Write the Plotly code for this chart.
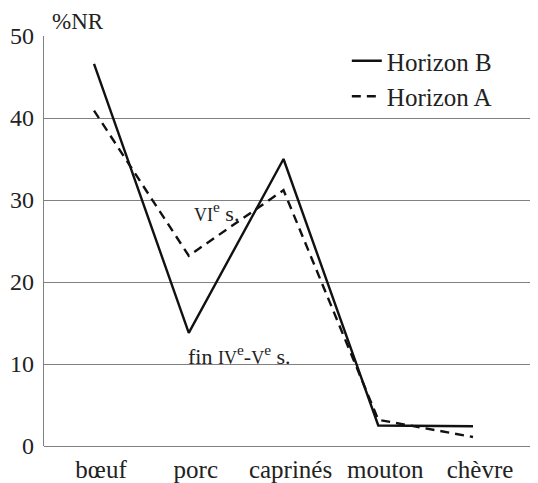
import plotly.graph_objects as go

categories = ["bœuf", "porc", "caprinés", "mouton", "chèvre"]
horizon_b = [46.6, 13.8, 35.0, 2.5, 2.4]
horizon_a = [40.9, 23.2, 31.2, 3.2, 1.1]
y_ticks = [0, 10, 20, 30, 40, 50]

FONT = "Liberation Serif"
TXT = "#222222"
GRID = "#808080"

fig = go.Figure()
fig.add_trace(go.Scatter(x=categories, y=horizon_b, mode="lines", name="Horizon B",
                         line=dict(color="#111111", width=2.4)))
fig.add_trace(go.Scatter(x=categories, y=horizon_a, mode="lines", name="Horizon A",
                         line=dict(color="#111111", width=2.4, dash="9px,6px")))

fig.update_layout(
    width=530, height=475,
    margin=dict(l=36, r=0, t=28, b=37),
    paper_bgcolor="white", plot_bgcolor="white",
    font=dict(family=FONT, size=22, color=TXT),
    showlegend=True,
    legend=dict(x=0.613, y=0.995, xanchor="left", yanchor="top",
                font=dict(family=FONT, size=25, color=TXT),
                bgcolor="rgba(0,0,0,0)", tracegroupgap=0),
    xaxis=dict(type="category", range=[-0.528, 4.686], showgrid=False,
               showline=False, ticks="", zeroline=False,
               tickfont=dict(family=FONT, size=25, color=TXT),
               ticklabelshift=7, ticklabelstandoff=6),
    yaxis=dict(range=[0, 50], tickvals=y_ticks, showgrid=True, gridcolor=GRID,
               gridwidth=1.3, showline=True, linecolor=GRID, linewidth=1.3,
               zeroline=True, zerolinecolor=GRID, zerolinewidth=1.3,
               ticks="", tickfont=dict(family=FONT, size=24, color=TXT),
               ticklabelstandoff=4),
    annotations=[
        dict(text="%NR", xref="paper", yref="paper", x=0.012, y=1.0, yshift=0,
             xanchor="left", yanchor="bottom", showarrow=False,
             font=dict(family=FONT, size=23, color=TXT)),
        dict(text="<span style='font-size:18px'>VI</span><sup>e</sup> s.",
             xref="paper", yref="y", x=0.30, y=28.5, xanchor="left", yanchor="middle",
             showarrow=False, font=dict(family=FONT, size=22, color=TXT)),
        dict(text="fin <span style='font-size:18px'>IV</span><sup>e</sup>-<span style='font-size:18px'>V</span><sup>e</sup> s.",
             xref="paper", yref="y", x=0.288, y=11.1, xanchor="left", yanchor="middle",
             showarrow=False, font=dict(family=FONT, size=22, color=TXT)),
    ],
)

fig.write_html("out.html")
